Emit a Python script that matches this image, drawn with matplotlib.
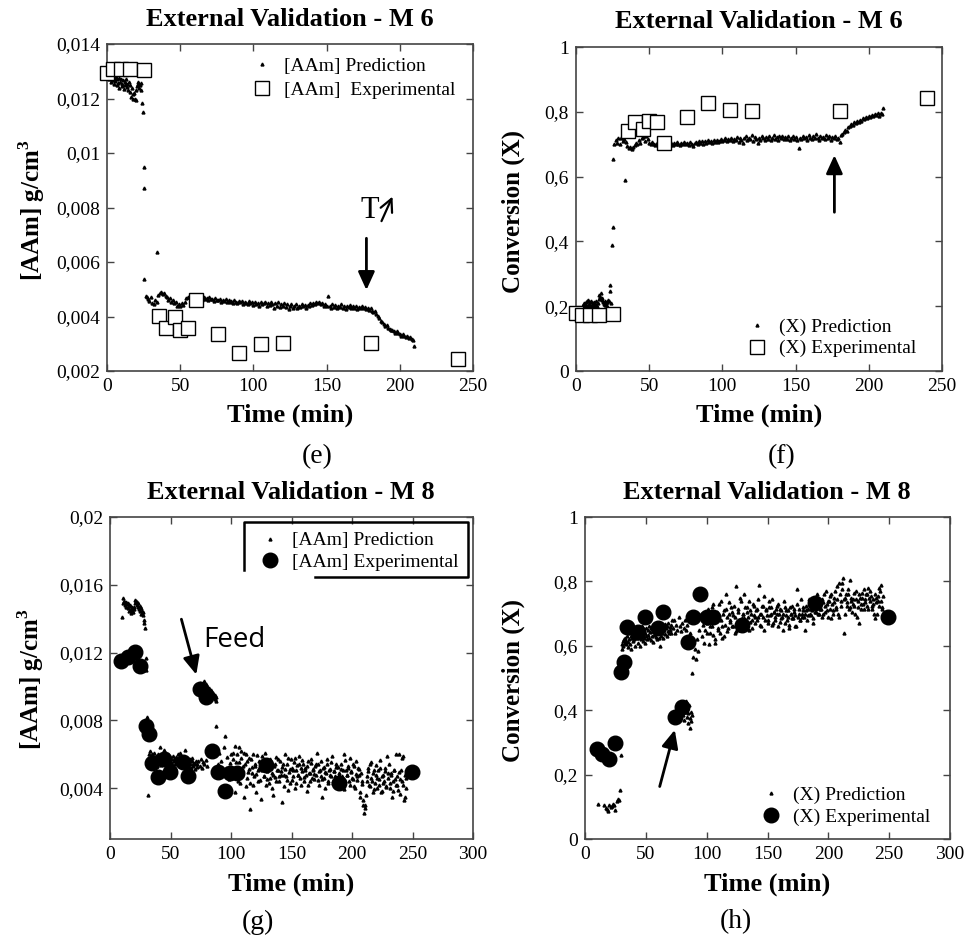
import numpy as np
import matplotlib
matplotlib.use('Agg')
import matplotlib.pyplot as plt
from matplotlib.ticker import FuncFormatter, MultipleLocator, FixedLocator

plt.rcParams['font.family'] = ['Liberation Serif', 'DejaVu Serif']
plt.rcParams['mathtext.fontset'] = 'custom'
plt.rcParams['mathtext.rm'] = 'Liberation Serif'
plt.rcParams['mathtext.bf'] = 'Liberation Serif:bold'

# ---------------- Panel (e): [AAm] M6 ----------------
e_exp_t = [0, 4.3, 9.3, 16, 25.5, 35.5, 40, 46.4, 49.8, 55.5, 60.5, 76, 90, 105.5, 120.3, 180, 239.8]
e_exp_v = [0.01295, 0.01308, 0.01308, 0.01308, 0.01305, 0.00403, 0.00357, 0.00397, 0.0035,
           0.00357, 0.0046, 0.00336, 0.00267, 0.00298, 0.00304, 0.00301, 0.00244]
# prediction, units of 1e-5 g/cm3
e_init_t0 = 0.5
e_init = [1282, 1276, 1270, 1285, 1262, 1278, 1268, 1290, 1255, 1272,
          1265, 1280, 1248, 1270, 1258, 1275, 1240, 1262, 1270, 1252,
          1245, 1268, 1235, 1260, 1250, 1272, 1242, 1255, 1230, 1262,
          1248, 1225, 1205, 1238, 1198, 1215, 1222, 1200, 1195, 1230,
          1245, 1255, 1262, 1240, 1250, 1258, 1232, 1183]
e_jump_t = [24.5, 25, 25, 25.5, 26.3, 34]
e_jump_v = [1150, 949, 872, 538, 475, 637]
e_band_t0 = 27
e_band = [472, 465, 458, 470, 450, 445, 462, 455, 478, 485,
          490, 482, 488, 476, 470, 462, 468, 455, 460, 448,
          452, 440, 446, 438, 450, 444, 455, 468, 472, 470,
          475, 468, 472, 470, 466, 473, 468, 470, 462, 470,
          465, 468, 460, 472, 463, 466, 458, 468, 462, 460,
          465, 455, 462, 458, 464, 452, 460, 455, 458, 450,
          462, 455, 448, 458, 452, 456, 445, 455, 450, 446,
          458, 448, 452, 444, 455, 447, 450, 438, 452, 445,
          448, 455, 440, 450, 443, 452, 446, 432, 448, 440,
          452, 436, 445, 440, 448, 435, 445, 428, 440, 445,
          432, 438, 446, 430, 440, 436, 445, 438, 442, 430,
          444, 440, 448, 442, 450, 445, 455, 448, 452, 445,
          450, 440, 446, 438, 475, 440, 432, 445, 436, 442,
          430, 440, 435, 445, 432, 438, 428, 440, 435, 442,
          430, 438, 433, 440, 428, 436, 432, 438, 430, 435,
          428, 432, 425, 430, 422, 418, 420, 410, 402, 395,
          385, 378, 372, 365, 368, 358, 355, 350, 352, 345,
          340, 345, 338, 335, 330, 336, 328, 325, 330, 322,
          326, 318, 315, 290]

# ---------------- Panel (f): Conversion M6 ----------------
f_exp_t = [0, 4.3, 9.3, 16, 25.5, 35.5, 40, 46, 49.6, 55.3, 60, 76, 90, 105.4, 120, 180, 240]
f_exp_v = [0.18, 0.172, 0.172, 0.172, 0.175, 0.741, 0.77, 0.746, 0.773, 0.77, 0.703,
           0.783, 0.827, 0.806, 0.801, 0.804, 0.842]
# prediction, units of 1e-3
f_init_t0 = 4
f_init = [195, 205, 200, 210, 198, 212, 205, 215, 202, 218,
          208, 212, 200, 215, 205, 210, 198, 212, 208, 204,
          215, 200, 210, 222, 234, 228, 240, 218, 225, 212,
          208, 215, 205, 210, 200, 212, 218, 215, 246, 265, 210]
f_jump_t = [24.5, 25, 25.5, 33.5]
f_jump_v = [390, 445, 655, 590]
f_band_t0 = 26
f_band = [700, 712, 705, 718, 702, 720, 710, 715, 708, 695,
          688, 692, 685, 690, 698, 705, 700, 712, 705, 718,
          722, 710, 725, 715, 705, 700, 708, 702, 698, 705,
          700, 696, 703, 699, 705, 698, 702, 706, 699, 703,
          697, 705, 700, 708, 702, 698, 705, 700, 707, 701,
          704, 698, 706, 700, 694, 703, 708, 701, 710, 704,
          709, 702, 711, 705, 712, 707, 710, 703, 713, 708,
          714, 706, 711, 716, 709, 714, 718, 710, 716, 712,
          720, 711, 717, 713, 722, 708, 719, 714, 705, 718,
          724, 712, 720, 715, 728, 710, 722, 716, 705, 719,
          713, 724, 718, 712, 722, 716, 726, 714, 720, 728,
          717, 722, 712, 724, 718, 726, 715, 722, 717, 724,
          714, 720, 726, 716, 722, 712, 688, 720, 716, 726,
          718, 723, 714, 728, 720, 716, 724, 718, 732, 720,
          714, 726, 718, 722, 716, 728, 720, 724, 714, 722,
          718, 726, 716, 720, 706, 728, 732, 738, 745, 742,
          752, 756, 762, 758, 768, 764, 772, 770, 776, 772,
          780, 778, 784, 780, 788, 785, 790, 786, 794, 790,
          796, 788, 795, 792, 812]

# ---------------- Panel (g): [AAm] M8 ----------------
g_exp_t = [9.4, 14.9, 20.4, 24.5, 29.5, 32, 34.7, 40, 44.6, 49.6, 60, 64.5, 74.1, 79.6,
           84.6, 89.3, 94.8, 98.9, 105, 129.2, 189.3, 249.6]
g_exp_v = [0.01148, 0.01174, 0.01201, 0.01123, 0.00766, 0.00717, 0.00547, 0.00463, 0.0057,
           0.00498, 0.00555, 0.00472, 0.00986, 0.00939, 0.00619, 0.00498, 0.00384, 0.00492,
           0.00492, 0.00535, 0.00429, 0.00498]
# prediction, units of 1e-5
g_clu_t0 = 10
g_clu = [1410, 1525, 1490, 1505, 1480, 1495, 1470, 1500, 1485, 1462, 1492, 1475, 1445,
         1480, 1458, 1435, 1470, 1450, 1442, 1468, 1455, 1510, 1495, 1505, 1480, 1500,
         1470, 1490, 1455, 1475, 1445, 1462, 1430, 1448, 1420, 1440, 1395, 1375, 1345]
g_jump_t = [29.5, 29.8, 30.5, 31]
g_jump_v = [1170, 1100, 820, 359]
g_b1_t0 = 32
g_b1 = [600, 570, 620, 555, 580, 600, 560, 590, 610, 540,
        545, 575, 590, 555, 530, 600, 575, 550, 640, 585,
        560, 535, 600, 570, 545, 595, 625, 550, 580, 605,
        555, 570, 600, 545, 530, 585, 570, 555, 545, 530,
        590, 570, 560, 540, 520, 585, 575, 550, 600, 560,
        540, 580, 610, 535, 565, 550, 530, 570, 585, 545,
        625, 560, 550, 530, 500, 555, 545, 525, 570, 540,
        520, 560, 580, 530, 540, 550, 515, 540, 560, 525]
g_b2_t0 = 72
g_b2 = [545, 560, 530, 575, 520, 555, 540, 565, 530]
g_feed_t0 = 72
g_feed = [985, 1000, 970, 1010, 990, 1020, 975, 995, 960, 1005,
          980, 1030, 965, 990, 1015, 950, 985, 1000, 960, 975,
          990, 945, 970, 980, 955, 965, 935, 960, 945, 925,
          950, 915, 935]
g_b3_t0 = 88
g_b3 = [765, 540, 610, 480, 560, 505, 640, 710, 520, 585,
        455, 550, 600, 490, 575, 650, 520, 600, 445, 555,
        620, 480, 530, 610, 410, 560, 495, 580, 430, 525,
        600, 470, 540, 380, 505, 560, 450, 515, 590, 470,
        530, 420, 500, 560, 460, 520, 400, 480, 545, 440,
        510, 570, 470, 500, 320, 540, 480, 515, 450, 580,
        495, 430, 520, 470, 555, 400, 510, 480, 545, 460,
        520, 565, 440, 505, 475, 530, 420, 490, 550, 460,
        515, 485, 540, 610, 450, 500, 470, 350, 520, 460,
        495, 540, 430, 510, 480, 555, 445, 500, 470, 525,
        410, 490, 455, 515, 470, 600, 440, 505, 480, 530,
        420, 495, 460, 545, 410, 485, 450, 520, 475, 380,
        440, 330, 255, 300, 445, 500, 420, 545, 460, 380,
        510, 430, 480, 400, 455, 520, 380, 470, 430, 500,
        410, 590, 460, 400, 490, 350, 440, 505, 420, 470,
        390, 600, 455, 580, 420, 330, 480, 400]
g_b4_t0 = 100.5
g_b4 = [520, 610, 470, 380, 555, 500, 640, 430, 580, 495,
        350, 545, 600, 460, 515, 275, 570, 490, 420, 530,
        485, 595, 440, 520, 335, 505, 560, 470, 610, 455,
        515, 430, 575, 490, 360, 530, 465, 585, 505, 445,
        560, 480, 525, 410, 600, 470, 540, 390, 515, 575,
        450, 505, 580, 430, 535, 475, 590, 420, 500, 545,
        465, 520, 385, 560, 490, 440, 575, 510, 455, 530,
        480, 545, 420, 505, 560, 455, 525, 400, 490, 570,
        445, 515, 470, 590, 430, 500, 545, 410, 525, 475,
        540, 460, 505, 395, 565, 480, 520, 440, 580, 500,
        455, 530, 400, 560, 470, 515, 350, 490, 425, 300,
        280, 360, 470, 520, 410, 555, 440, 490, 395, 535,
        460, 505, 420, 565, 385, 480, 445, 520, 405, 490,
        540, 430, 475, 385, 510, 455, 600, 420, 495, 365,
        505, 440, 590, 350, 460]

# ---------------- Panel (h): Conversion M8 ----------------
h_exp_t = [9.6, 14.3, 19.7, 24.6, 29.6, 32.4, 34.2, 43.8, 49.3, 59.7, 64.4, 74, 79.5,
           84.9, 89, 94.5, 99.9, 105.4, 128.8, 189, 248.8]
h_exp_v = [0.28, 0.264, 0.248, 0.299, 0.52, 0.549, 0.659, 0.644, 0.688, 0.654, 0.706,
           0.38, 0.409, 0.613, 0.69, 0.762, 0.69, 0.69, 0.665, 0.734, 0.688]
# prediction, units of 1e-3
h_clu_t = [10.5, 16, 17, 18, 19, 20, 21, 22, 23, 24, 25, 26, 27, 28, 28.8, 29.6]
h_clu_v = [108, 105, 95, 92, 88, 105, 100, 102, 110, 105, 90, 118, 125, 120, 152, 260]
h_b1_t0 = 30
h_b1 = [605, 590, 615, 600, 620, 610, 625, 615, 605, 630,
        612, 595, 622, 640, 605, 630, 590, 625, 645, 615,
        635, 620, 650, 600, 638, 625, 655, 610, 640, 628,
        600, 645, 620, 660, 632, 615, 648, 625, 640, 610,
        655, 630, 620, 648, 635, 660, 625, 642, 618, 655,
        630, 645, 612, 650, 635, 665, 628, 645, 620, 658,
        640, 625, 660, 600, 645, 630, 668, 640, 655, 625,
        650, 668, 638, 655, 630, 660, 645, 672, 640, 658,
        650, 665, 640, 680]
h_feed_t0 = 80
h_feed = [400, 385, 420, 370, 410, 395, 430, 380, 405, 360, 390, 415, 345, 375, 395, 365, 385]
h_b2_t0 = 72
h_b2 = [655, 680, 640, 665, 650, 690, 660, 645, 670, 655,
        680, 648, 665, 690, 640, 600, 515, 565, 590, 560,
        620, 585, 650, 700, 630, 665, 610, 650, 640, 690,
        605, 660, 720, 635, 675, 610, 700, 655, 730, 640,
        680, 625, 710, 665, 760, 645, 700, 680, 720, 660,
        695, 640, 785, 670, 705, 650, 740, 685, 700, 760,
        665, 720, 690, 650, 710, 680, 730, 695, 670, 715,
        690, 790, 700, 660, 725, 755, 680, 710, 670, 740,
        695, 720, 665, 705, 680, 715, 700, 730, 675, 710,
        690, 650, 720, 695, 680, 710, 665, 700, 725, 685,
        705, 660, 775, 690, 715, 680, 700, 720, 690, 650,
        710, 695, 730, 700, 715, 685, 740, 705, 720, 760,
        700, 735, 715, 745, 700, 725, 770, 710, 740, 755,
        685, 730, 710, 750, 720, 785, 700, 795, 740, 775,
        810, 640, 750, 725, 760, 715, 805, 740, 730, 765,
        700, 745, 720, 670, 750, 730, 765, 715, 745, 760,
        725, 780, 740, 755, 715, 730, 685, 750, 700, 740,
        780, 790, 720, 755]
h_b3_t0 = 100.5
h_b3 = [670, 715, 640, 695, 660, 730, 620, 685, 705, 650,
        695, 740, 660, 700, 630, 715, 690, 655, 735, 675,
        705, 660, 725, 690, 645, 715, 680, 750, 665, 700,
        685, 720, 660, 705, 740, 675, 700, 655, 725, 690,
        710, 680, 745, 665, 700, 725, 690, 650, 715, 695,
        680, 720, 700, 745, 670, 705, 690, 725, 660, 700,
        715, 685, 700, 740, 670, 710, 690, 655, 720, 700,
        685, 715, 695, 660, 730, 700, 680, 745, 690, 710,
        700, 725, 680, 715, 745, 695, 710, 670, 730, 705,
        725, 700, 745, 715, 690, 735, 760, 705, 730, 690,
        740, 715, 760, 700, 735, 770, 715, 745, 690, 760,
        725, 795, 745, 700, 760, 735, 775, 720, 750, 705,
        745, 725, 770, 690, 740, 760, 715, 750, 730, 775,
        735, 760, 715, 750, 770, 725, 745, 700, 760, 735,
        755, 725, 770, 740, 715]


def grid(t0, step, vals):
    return t0 + step * np.arange(len(vals))


def series(parts, scale):
    ts, vs = [], []
    for t, v in parts:
        ts.append(np.asarray(t, float))
        vs.append(np.asarray(v, float) * scale)
    return np.concatenate(ts), np.concatenate(vs)


e_pt, e_pv = series([(grid(e_init_t0, 0.5, e_init), e_init), (e_jump_t, e_jump_v),
                     (grid(e_band_t0, 1, e_band), e_band)], 1e-5)
f_pt, f_pv = series([(grid(f_init_t0, 0.5, f_init), f_init), (f_jump_t, f_jump_v),
                     (grid(f_band_t0, 1, f_band), f_band)], 1e-3)
g_pt, g_pv = series([(grid(g_clu_t0, 0.5, g_clu), g_clu), (g_jump_t, g_jump_v),
                     (grid(g_b1_t0, 0.5, g_b1), g_b1), (grid(g_b2_t0, 1, g_b2), g_b2),
                     (grid(g_feed_t0, 0.5, g_feed), g_feed), (grid(g_b3_t0, 1, g_b3), g_b3),
                     (grid(g_b4_t0, 1, g_b4), g_b4)], 1e-5)
h_pt, h_pv = series([(h_clu_t, h_clu_v), (grid(h_b1_t0, 0.5, h_b1), h_b1),
                     (grid(h_feed_t0, 0.5, h_feed), h_feed), (grid(h_b2_t0, 1, h_b2), h_b2),
                     (grid(h_b3_t0, 1, h_b3), h_b3)], 1e-3)

# ---------------- figure ----------------
W, H = 965, 939
fig = plt.figure(figsize=(W / 100, H / 100), dpi=100)


def add_ax(l, t, r, b):
    return fig.add_axes([l / W, 1 - b / H, (r - l) / W, (b - t) / H])


def comma(v, pos):
    s = ('%.3f' % v).rstrip('0').rstrip('.')
    return s.replace('.', ',')


def style(ax):
    for s in ax.spines.values():
        s.set_color('#444444')
        s.set_linewidth(1.2)
    ax.tick_params(direction='in', top=True, right=True, length=5, width=1,
                   color='#444444', labelcolor='black', labelsize=14, pad=5)
    ax.yaxis.set_major_formatter(FuncFormatter(comma))


PM = dict(marker='^', ms=2.1, color='black', ls='none', zorder=2)
SQ = dict(marker='s', ms=9.5, mfc='white', mec='black', mew=1.0, ls='none', zorder=3, clip_on=False)
CI = dict(marker='o', ms=10.5, color='black', ls='none', zorder=3, clip_on=False)
AR = dict(arrowstyle='-|>,head_length=0.55,head_width=0.25', color='black', lw=2, mutation_scale=20,
          shrinkA=0, shrinkB=0)
LG = dict(frameon=False, fontsize=14, handlelength=1.5, handletextpad=0.35, borderpad=0,
          borderaxespad=0, numpoints=1, loc='upper left')

axe = add_ax(107, 44, 473, 371)
axf = add_ax(576, 47, 942, 371)
axg = add_ax(110, 517, 473, 839)
axh = add_ax(585, 517, 950, 839)

# (e)
axe.plot(e_pt, e_pv, label='[AAm] Prediction', **PM)
axe.plot(e_exp_t, e_exp_v, label='[AAm]  Experimental', **SQ)
axe.set_xlim(0, 250)
axe.set_ylim(0.002, 0.014)
axe.xaxis.set_major_locator(MultipleLocator(50))
axe.yaxis.set_major_locator(MultipleLocator(0.002))
style(axe)
axe.annotate('', xy=(177.2, 0.00497), xytext=(177.2, 0.00687), arrowprops=AR)
axe.text(179.5, 0.0079, 'T', fontsize=22, ha='center', va='center')
axe.annotate('', xy=(195, 0.0084), xytext=(187.5, 0.0075),
             arrowprops=dict(arrowstyle='->,head_length=0.5,head_width=0.25', lw=1.6, color='black',
                             mutation_scale=18, shrinkA=0, shrinkB=0))
axe.legend(bbox_to_anchor=(0.384, 0.960), labelspacing=0.35, **LG)

# (f)
axf.plot(f_pt, f_pv, label='(X) Prediction', **PM)
axf.plot(f_exp_t, f_exp_v, label='(X) Experimental', **SQ)
axf.set_xlim(0, 250)
axf.set_ylim(0, 1)
axf.xaxis.set_major_locator(MultipleLocator(50))
axf.yaxis.set_major_locator(MultipleLocator(0.2))
style(axf)
axf.annotate('', xy=(176.5, 0.666), xytext=(176.5, 0.49), arrowprops=AR)
axf.legend(bbox_to_anchor=(0.455, 0.164), labelspacing=0.22, **LG)

# (g)
axg.plot(g_pt, g_pv, label='[AAm] Prediction', **PM)
axg.plot(g_exp_t, g_exp_v, label='[AAm] Experimental', **CI)
axg.set_xlim(0, 300)
axg.set_ylim(0.001, 0.02)
axg.xaxis.set_major_locator(MultipleLocator(50))
axg.yaxis.set_major_locator(FixedLocator([0.004, 0.008, 0.012, 0.016, 0.02]))
style(axg)
axg.annotate('', xy=(71.3, 0.0107), xytext=(59, 0.01397), arrowprops=AR)
axg.text(103, 0.01275, 'Feed', fontsize=20, family=['Open Sans', 'DejaVu Sans'],
         ha='center', va='center')
axg.legend(bbox_to_anchor=(0.401, 0.954), labelspacing=0.2, **LG)
# partial legend frame as in the original
fx = [0.369, 0.369, 0.986, 0.986, 0.565]
fy = [0.835, 0.984, 0.984, 0.814, 0.814]
axg.plot(fx, fy, color='black', lw=1.8, transform=axg.transAxes, clip_on=False, zorder=4)

# (h)
axh.plot(h_pt, h_pv, label='(X) Prediction', **PM)
axh.plot(h_exp_t, h_exp_v, label='(X) Experimental', **CI)
axh.set_xlim(0, 300)
axh.set_ylim(0, 1)
axh.xaxis.set_major_locator(MultipleLocator(50))
axh.yaxis.set_major_locator(MultipleLocator(0.2))
style(axh)
axh.annotate('', xy=(73.8, 0.339), xytext=(61.4, 0.163), arrowprops=AR)
axh.legend(bbox_to_anchor=(0.470, 0.165), labelspacing=0.25, **LG)

# texts
TB = dict(fontsize=19, fontweight='bold', ha='center', va='center')
for x, y, s in [(290, 20, 'External Validation - M 6'), (759, 22, 'External Validation - M 6'),
                (291, 492, 'External Validation - M 8'), (767, 492, 'External Validation - M 8')]:
    fig.text(x / W, 1 - y / H, s, **TB)
for x, y in [(290, 415), (759, 415), (291, 884), (767, 884)]:
    fig.text(x / W, 1 - y / H, 'Time (min)', **TB)
TY = dict(TB, fontsize=18, rotation=90)
for x, y, s in [(32, 210, '[AAm] g/cm$^{\\mathbf{3}}$'), (513, 211, 'Conversion (X)'),
                (31, 679, '[AAm] g/cm$^{\\mathbf{3}}$'), (513, 680, 'Conversion (X)')]:
    fig.text(x / W, 1 - y / H, s, **TY)
for x, y, s in [(317, 457, '(e)'), (782, 457, '(f)'), (258, 922, '(g)'), (736, 922, '(h)')]:
    fig.text(x / W, 1 - y / H, s, fontsize=20, ha='center', va='center')

fig.savefig('out.png', dpi=100)
